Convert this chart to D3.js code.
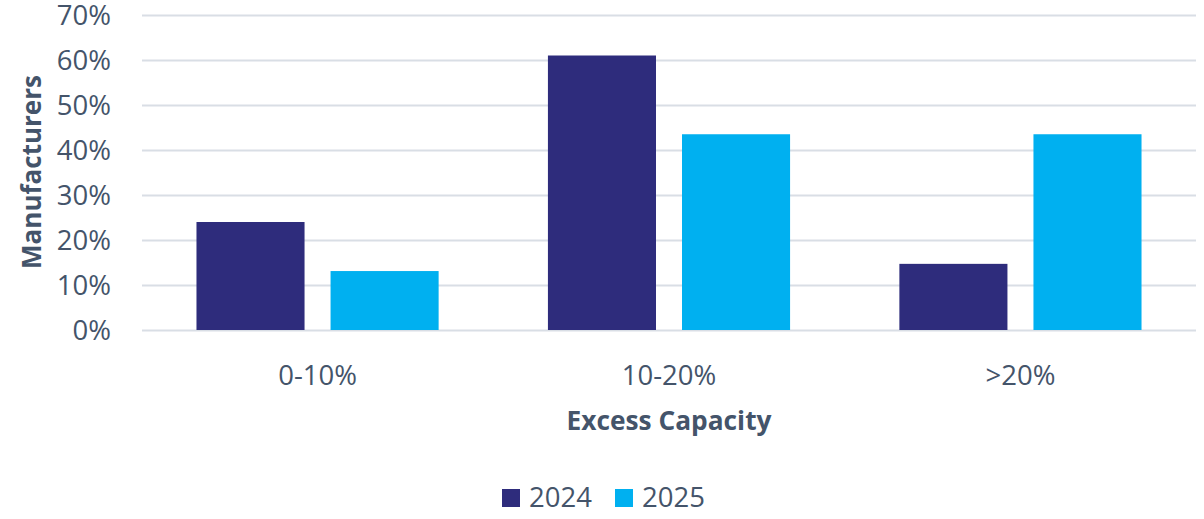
<!DOCTYPE html>
<html>
<head>
<meta charset="utf-8">
<script src="https://cdn.jsdelivr.net/npm/d3@7"></script>
<style>
  body { margin: 0; background: #fff; }
  text { font-family: "Open Sans", sans-serif; fill: #44546A; }
</style>
</head>
<body>
<script>
// chart data
let categories = ['0-10%', '10-20%', '>20%'];
let seriesNames = ['2024', '2025'];
let values2024 = [0.24, 0.61, 0.147];
let values2025 = [0.131, 0.435, 0.435];
let yTicks = [0, 0.1, 0.2, 0.3, 0.4, 0.5, 0.6, 0.7];

let colors = { '2024': '#2E2C7C', '2025': '#00B0F0' };

let width = 1204, height = 519;
let plotLeft = 142, plotRight = 1196, plotTop = 15, plotBottom = 330;

let svg = d3.select('body').append('svg')
            .attr('width', width)
            .attr('height', height);

let x = d3.scaleBand()
          .domain(categories)
          .range([plotLeft, plotRight])
          .paddingInner(0.311)
          .paddingOuter(0.155);

let xSub = d3.scaleBand()
             .domain(seriesNames)
             .range([0, x.bandwidth()])
             .paddingInner(0.194);

let y = d3.scaleLinear()
          .domain([0, 0.7])
          .range([plotBottom, plotTop]);

// gridlines
svg.append('g')
   .selectAll('line')
   .data(yTicks)
   .enter()
   .append('line')
   .attr('x1', plotLeft)
   .attr('x2', plotRight)
   .attr('y1', (d) => { return Math.round(y(d)) + 0.5; })
   .attr('y2', (d) => { return Math.round(y(d)) + 0.5; })
   .attr('stroke', '#D9DEE5')
   .attr('stroke-width', 2);

// y axis labels
let yAxis = d3.axisLeft(y)
              .tickValues(yTicks)
              .tickFormat(d3.format('.0%'))
              .tickSize(0)
              .tickPadding(0);

let yg = svg.append('g')
            .attr('transform', 'translate(111, 0)')
            .call(yAxis);
yg.select('.domain').remove();
yg.selectAll('text')
  .attr('font-size', 27.5)
  .attr('font-family', '"Open Sans", sans-serif')
  .attr('fill', '#44546A')
  .attr('dy', '0.36em');

// bars
let series = [
  { name: '2024', values: values2024 },
  { name: '2025', values: values2025 }
];

series.forEach((s) => {
  svg.append('g')
     .selectAll('rect')
     .data(categories)
     .enter()
     .append('rect')
     .attr('x', (d) => { return x(d) + xSub(s.name); })
     .attr('width', xSub.bandwidth())
     .attr('y', (d, i) => { return y(s.values[i]); })
     .attr('height', (d, i) => { return y(0) - y(s.values[i]); })
     .attr('fill', colors[s.name]);
});

// x axis labels
let xAxis = d3.axisBottom(x).tickSize(0).tickPadding(0);
let xg = svg.append('g')
            .attr('transform', 'translate(0, 385)')
            .call(xAxis);
xg.select('.domain').remove();
xg.selectAll('text')
  .attr('font-size', 27.5)
  .attr('font-family', '"Open Sans", sans-serif')
  .attr('fill', '#44546A')
  .attr('dy', '0');

// axis titles
svg.append('text')
   .attr('x', (plotLeft + plotRight) / 2)
   .attr('y', 430)
   .attr('text-anchor', 'middle')
   .attr('font-size', 26.3)
   .attr('font-weight', 'bold')
   .text('Excess Capacity');

svg.append('text')
   .attr('transform', 'translate(41, 172) rotate(-90)')
   .attr('text-anchor', 'middle')
   .attr('font-size', 26)
   .attr('font-weight', 'bold')
   .text('Manufacturers');

// legend
let legendX = [502, 615];
let legend = svg.append('g')
                .selectAll('g')
                .data(seriesNames)
                .enter()
                .append('g')
                .attr('transform', (d, i) => { return 'translate(' + legendX[i] + ', 489)'; });

legend.append('rect')
      .attr('width', 18)
      .attr('height', 18)
      .attr('fill', (d) => { return colors[d]; });

legend.append('text')
      .attr('x', 27)
      .attr('y', 18)
      .attr('font-size', 27.5)
      .text((d) => { return d; });
</script>
</body>
</html>
